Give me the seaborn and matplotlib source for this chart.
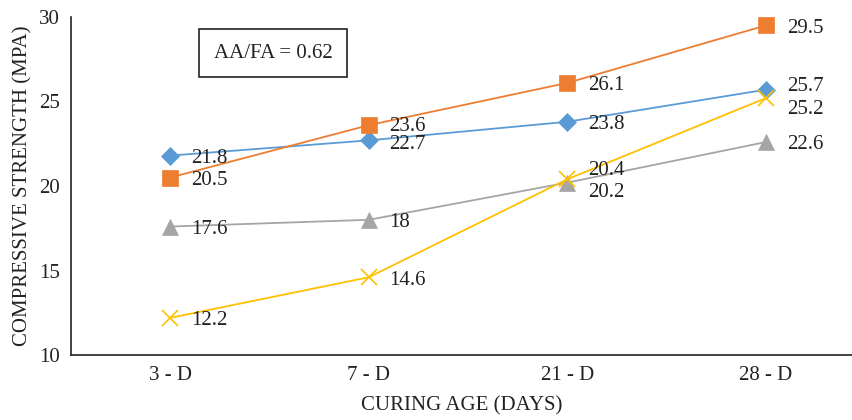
import matplotlib
matplotlib.use("Agg")
import matplotlib.pyplot as plt
import seaborn as sns
import pandas as pd

# Curing ages and compressive strength results (MPa)
ages = ["3 - D", "7 - D", "21 - D", "28 - D"]
mix_a = [21.8, 22.7, 23.8, 25.7]
mix_b = [20.5, 23.6, 26.1, 29.5]
mix_c = [17.6, 18, 20.2, 22.6]
mix_d = [12.2, 14.6, 20.4, 25.2]

series = {"A": mix_a, "B": mix_b, "C": mix_c, "D": mix_d}
colors = {"A": "#5B9BD5", "B": "#ED7D31", "C": "#A5A5A5", "D": "#FFC000"}
markers = {"A": "D", "B": "s", "C": "^", "D": "x"}
msize = {"A": 9.5, "B": 11, "C": 11, "D": 11}

rows = []
for name, vals in series.items():
    for age, v in zip(ages, vals):
        rows.append({"age": age, "strength": v, "mix": name})
df = pd.DataFrame(rows)

sns.set_theme(style="white")
plt.rcParams["font.family"] = ["Liberation Serif", "DejaVu Serif"]

FS = 15
TXT = "#222222"

fig = plt.figure(figsize=(8.52, 4.2), dpi=100)
ax = fig.add_axes([71 / 852, 1 - 355 / 420, (852 - 71) / 852, (355 - 17) / 420])

for name in series:
    sub = df[df["mix"] == name]
    sns.lineplot(data=sub, x="age", y="strength", ax=ax, color=colors[name],
                 marker=markers[name], markersize=msize[name],
                 markeredgecolor=colors[name],
                 markeredgewidth=1.2 if name == "D" else 0.5,
                 linewidth=1.3, legend=False, sort=False)

# Per-point label nudges (x, y in points) to keep close values apart
nudge = {("A", 3): (15, 2), ("D", 3): (15, -8),
         ("D", 2): (15, 6), ("C", 2): (15, -7),
         ("B", 1): (15, -1), ("A", 1): (15, -3)}
for name, vals in series.items():
    for i, v in enumerate(vals):
        dx, dy = nudge.get((name, i), (15, -2))
        ax.annotate(f"{v:g}", (i, v), xytext=(dx, dy), textcoords="offset points",
                    ha="left", va="center", fontsize=FS, color=TXT)

ax.set_xlim(-0.5, 3.434)
ax.set_ylim(10, 30)
ax.set_yticks([10, 15, 20, 25, 30])
ax.tick_params(axis="both", labelsize=FS, colors=TXT, length=0, pad=8)
ax.set_xlabel("CURING AGE (DAYS)", fontsize=FS, color=TXT, labelpad=8)
ax.set_ylabel("COMPRESSIVE STRENGTH (MPA)", fontsize=FS, color=TXT, labelpad=5)
for side in ["top", "right"]:
    ax.spines[side].set_visible(False)
for side in ["left", "bottom"]:
    ax.spines[side].set_color(TXT)
    ax.spines[side].set_linewidth(1.2)
ax.grid(False)

ax.text(273 / 852, 1 - 53 / 420, "AA/FA = 0.62", transform=fig.transFigure,
        ha="center", va="center", fontsize=FS, color=TXT,
        bbox=dict(boxstyle="square,pad=0.7", facecolor="white",
                  edgecolor=TXT, linewidth=1.2))

fig.savefig("out.png", dpi=100)
